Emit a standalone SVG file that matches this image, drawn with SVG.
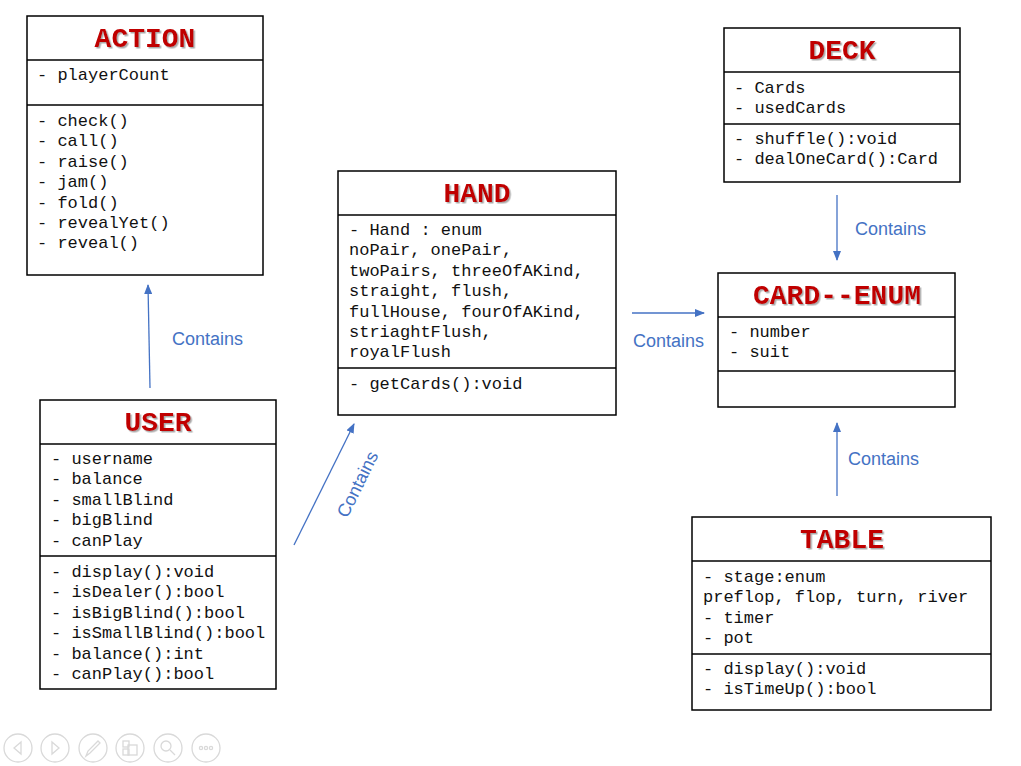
<svg xmlns="http://www.w3.org/2000/svg" width="1021" height="766" viewBox="0 0 1021 766">
<style>
.box{fill:#fff;stroke:#000;stroke-width:1.5}
.div{stroke:#000;stroke-width:1.5}
.title{font-family:"Liberation Mono","Courier New",monospace;font-weight:bold;font-size:28px;fill:#c00000;text-anchor:middle;filter:url(#sh)}
.t{font-family:"Liberation Mono","Courier New",monospace;font-size:17px;fill:#111}
.con{stroke:#4472c4;stroke-width:1.3;fill:none;marker-end:url(#ah)}
.lbl{font-family:"Liberation Sans",Arial,sans-serif;font-size:18px;fill:#4472c4}
.ic{fill:none;stroke:#d9d9d9;stroke-width:1.3}
</style>
<defs>
<filter id="sh" x="-10%" y="-30%" width="130%" height="160%">
<feDropShadow dx="1.5" dy="1.5" stdDeviation="0.6" flood-color="#888" flood-opacity="0.7"/>
</filter>
<marker id="ah" markerWidth="10" markerHeight="8" refX="9" refY="4" orient="auto" markerUnits="userSpaceOnUse">
<path d="M0,0 L10,4 L0,8 Z" fill="#4472c4"/>
</marker>
</defs>
<rect width="1021" height="766" fill="#fff"/>

<g id="action">
<rect class="box" x="27" y="16" width="236" height="259"/>
<line class="div" x1="27" y1="60" x2="263" y2="60"/>
<line class="div" x1="27" y1="105" x2="263" y2="105"/>
<text class="title" x="145" y="47">ACTION</text>
<text class="t" x="37" y="80">- playerCount</text>
<text class="t" x="37" y="126">- check()</text>
<text class="t" x="37" y="146">- call()</text>
<text class="t" x="37" y="167">- raise()</text>
<text class="t" x="37" y="187">- jam()</text>
<text class="t" x="37" y="208">- fold()</text>
<text class="t" x="37" y="228">- revealYet()</text>
<text class="t" x="37" y="248">- reveal()</text>
</g>

<g id="deck">
<rect class="box" x="724" y="28" width="236" height="154"/>
<line class="div" x1="724" y1="72" x2="960" y2="72"/>
<line class="div" x1="724" y1="124" x2="960" y2="124"/>
<text class="title" x="842" y="59">DECK</text>
<text class="t" x="734" y="93">- Cards</text>
<text class="t" x="734" y="113">- usedCards</text>
<text class="t" x="734" y="144">- shuffle():void</text>
<text class="t" x="734" y="164">- dealOneCard():Card</text>
</g>

<g id="hand">
<rect class="box" x="338" y="171" width="278" height="244"/>
<line class="div" x1="338" y1="215" x2="616" y2="215"/>
<line class="div" x1="338" y1="368" x2="616" y2="368"/>
<text class="title" x="477" y="202">HAND</text>
<text class="t" x="349" y="235">- Hand : enum</text>
<text class="t" x="349" y="255">noPair, onePair,</text>
<text class="t" x="349" y="276">twoPairs, threeOfAKind,</text>
<text class="t" x="349" y="296">straight, flush,</text>
<text class="t" x="349" y="317">fullHouse, fourOfAKind,</text>
<text class="t" x="349" y="337">striaghtFlush,</text>
<text class="t" x="349" y="357">royalFlush</text>
<text class="t" x="349" y="389">- getCards():void</text>
</g>

<g id="card-enum">
<rect class="box" x="718" y="273" width="237" height="134"/>
<line class="div" x1="718" y1="317" x2="955" y2="317"/>
<line class="div" x1="718" y1="371" x2="955" y2="371"/>
<text class="title" x="837" y="304">CARD--ENUM</text>
<text class="t" x="729" y="337">- number</text>
<text class="t" x="729" y="357">- suit</text>
</g>

<g id="user">
<rect class="box" x="40" y="400" width="236" height="289"/>
<line class="div" x1="40" y1="444" x2="276" y2="444"/>
<line class="div" x1="40" y1="556" x2="276" y2="556"/>
<text class="title" x="158" y="431">USER</text>
<text class="t" x="51" y="464">- username</text>
<text class="t" x="51" y="484">- balance</text>
<text class="t" x="51" y="505">- smallBlind</text>
<text class="t" x="51" y="525">- bigBlind</text>
<text class="t" x="51" y="546">- canPlay</text>
<text class="t" x="51" y="577">- display():void</text>
<text class="t" x="51" y="597">- isDealer():bool</text>
<text class="t" x="51" y="618">- isBigBlind():bool</text>
<text class="t" x="51" y="638">- isSmallBlind():bool</text>
<text class="t" x="51" y="659">- balance():int</text>
<text class="t" x="51" y="679">- canPlay():bool</text>
</g>

<g id="table">
<rect class="box" x="692" y="517" width="299" height="193"/>
<line class="div" x1="692" y1="561" x2="991" y2="561"/>
<line class="div" x1="692" y1="654" x2="991" y2="654"/>
<text class="title" x="842" y="548">TABLE</text>
<text class="t" x="703" y="582">- stage:enum</text>
<text class="t" x="703" y="602">preflop, flop, turn, river</text>
<text class="t" x="703" y="623">- timer</text>
<text class="t" x="703" y="643">- pot</text>
<text class="t" x="703" y="674">- display():void</text>
<text class="t" x="703" y="694">- isTimeUp():bool</text>
</g>

<g id="connectors">
<line class="con" x1="150" y1="388" x2="148" y2="285"/>
<text class="lbl" x="172" y="345">Contains</text>
<line class="con" x1="294" y1="545" x2="354" y2="424"/>
<text class="lbl" transform="translate(363,487) rotate(-63.6)" text-anchor="middle">Contains</text>
<line class="con" x1="632" y1="313" x2="704" y2="313"/>
<text class="lbl" x="633" y="347">Contains</text>
<line class="con" x1="837" y1="195" x2="837" y2="260"/>
<text class="lbl" x="855" y="235">Contains</text>
<line class="con" x1="837" y1="496" x2="837" y2="423"/>
<text class="lbl" x="848" y="465">Contains</text>
</g>

<g id="controls">
<circle class="ic" cx="18" cy="748" r="14"/>
<path class="ic" d="M21,742 L14,748 L21,754 Z"/>
<circle class="ic" cx="55" cy="748" r="14"/>
<path class="ic" d="M52,742 L59,748 L52,754 Z"/>
<circle class="ic" cx="93" cy="748" r="14"/>
<path class="ic" d="M86,756 L88,751 L98,741 L100,743 L90,753 Z"/>
<circle class="ic" cx="130" cy="748" r="14"/>
<rect class="ic" x="123" y="741" width="6" height="6"/>
<rect class="ic" x="123" y="749" width="6" height="6"/>
<rect class="ic" x="128" y="745" width="9" height="10"/>
<circle class="ic" cx="168" cy="748" r="14"/>
<circle class="ic" cx="166" cy="746" r="5"/>
<line class="ic" x1="170" y1="750" x2="175" y2="755"/>
<circle class="ic" cx="206" cy="748" r="14"/>
<circle class="ic" cx="201" cy="748" r="1.6"/>
<circle class="ic" cx="206" cy="748" r="1.6"/>
<circle class="ic" cx="211" cy="748" r="1.6"/>
</g>
</svg>
